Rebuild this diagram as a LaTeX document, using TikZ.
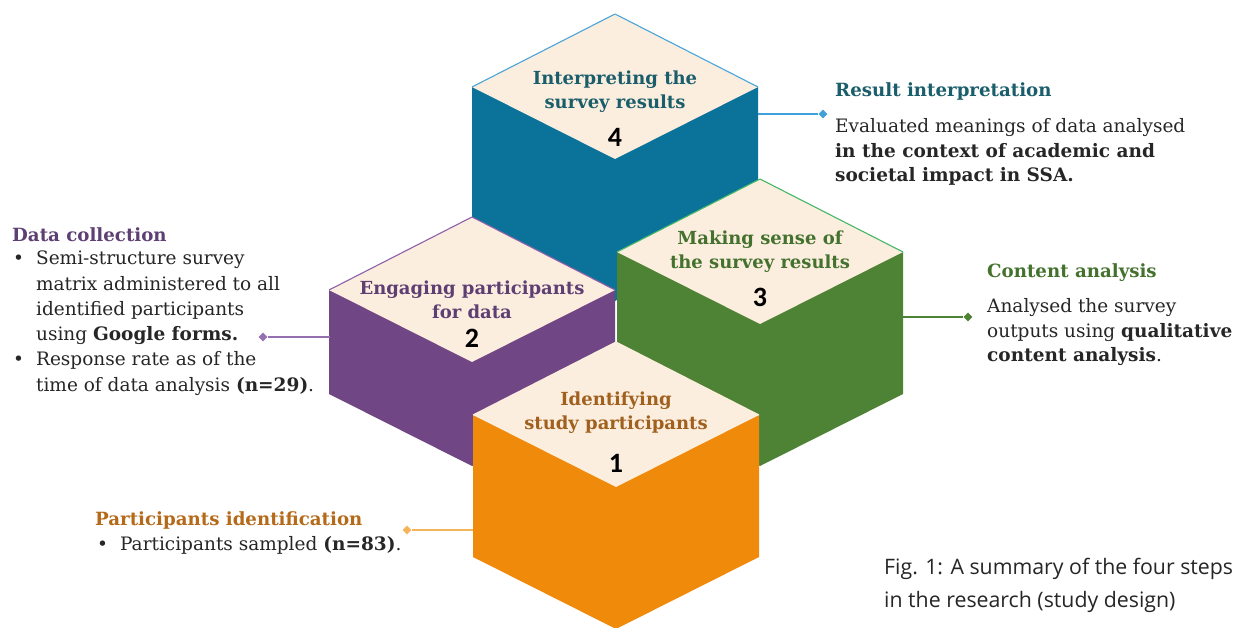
\documentclass[tikz,border=0pt]{standalone}
\usepackage{fontspec}
\setmainfont{DejaVu Serif}
\newfontfamily\capfont{Open Sans}
\newfontfamily\numfont{Carlito}
\usetikzlibrary{shapes.geometric}

\definecolor{cream}{HTML}{FCEEDF}
\definecolor{cubeblue}{HTML}{0B7299}
\definecolor{cubepurple}{HTML}{714685}
\definecolor{cubegreen}{HTML}{4E8235}
\definecolor{cubeorange}{HTML}{F08A0B}
\definecolor{edgeblue}{HTML}{4AA6DC}
\definecolor{edgepurple}{HTML}{8E62AA}
\definecolor{edgegreen}{HTML}{46B86A}
\definecolor{lineblue}{HTML}{3FA0DA}
\definecolor{linepurple}{HTML}{9470B0}
\definecolor{linegreen}{HTML}{4E8235}
\definecolor{lineorange}{HTML}{F5B35A}
\definecolor{headteal}{HTML}{1B5E6B}
\definecolor{headpurple}{HTML}{5E3F73}
\definecolor{headgreen}{HTML}{44722E}
\definecolor{headbrown}{HTML}{A0601E}
\definecolor{headorange}{HTML}{B56A1A}
\definecolor{bodytext}{HTML}{262626}
\definecolor{captext}{HTML}{262626}

% isometric block: centre of top face (#1,#2), wall height #3,
% wall colour #4, outline of the upper top edges #5
\newcommand\isoblock[5]{%
  \fill[#4] (#1-143,#2) -- (#1,#2-73) -- (#1+143,#2) -- (#1+143,#2+#3)
    -- (#1,#2+72+#3) -- (#1-143,#2+#3) -- cycle;
  \fill[cream] (#1-143,#2) -- (#1,#2-73) -- (#1+143,#2) -- (#1,#2+72) -- cycle;
  \draw[#5, line width=1.1bp, line join=round] (#1-143,#2) -- (#1,#2-73) -- (#1+143,#2);
}

\tikzset{
  cubehead/.style={inner sep=0pt, anchor=base,
    font=\fontsize{18bp}{24bp}\selectfont\bfseries},
  stepnum/.style={inner sep=0pt, anchor=base, text=black,
    font=\numfont\fontsize{28bp}{28bp}\selectfont\bfseries},
  sidehead/.style={inner sep=0pt, anchor=base west,
    font=\fontsize{18.2bp}{24bp}\selectfont\bfseries},
  sidebody/.style={inner sep=0pt, anchor=base west, text=bodytext,
    font=\fontsize{18.5bp}{24.5bp}\selectfont},
  tip/.style={diamond, fill=#1, inner sep=0pt, minimum size=9bp},
  link/.style={draw=#1, line width=1.4bp},
  captiontext/.style={inner sep=0pt, anchor=base west, text=captext,
    font=\capfont\fontsize{21.3bp}{33bp}\selectfont},
}

\begin{document}
\begin{tikzpicture}[x=1bp, y=-1bp]
\clip (0,0) rectangle (1236,628);
\fill[white] (0,0) rectangle (1236,628);

% the four blocks, back to front
\isoblock{615}{87}{142}{cubeblue}{edgeblue}
\isoblock{472}{290}{104}{cubepurple}{edgepurple}
\isoblock{760}{252}{142}{cubegreen}{edgegreen}
\isoblock{616}{415}{142}{cubeorange}{cream}

% block titles and step numbers
\node[cubehead, text=headteal] (t4) at (615,85)
  {\begin{tabular}[t]{@{}c@{}}Interpreting the\\survey results\end{tabular}};
\node[stepnum] (n4) at (615,147) {4};
\node[cubehead, text=headpurple] (t2) at (472,295)
  {\begin{tabular}[t]{@{}c@{}}Engaging participants\\for data\end{tabular}};
\node[stepnum] (n2) at (472,348) {2};
\node[cubehead, text=headgreen] (t3) at (760,245)
  {\begin{tabular}[t]{@{}c@{}}Making sense of\\the survey results\end{tabular}};
\node[stepnum] (n3) at (760,307) {3};
\node[cubehead, text=headbrown] (t1) at (616,405)
  {\begin{tabular}[t]{@{}c@{}}Identifying\\study participants\end{tabular}};
\node[stepnum] (n1) at (616,472) {1};

% connector anchors on the block walls
\coordinate (c4) at (758,114);
\coordinate (c3) at (903,317);
\coordinate (c2) at (330,337);
\coordinate (c1) at (473,530);

\node[tip=lineblue] (d4) at (823,114) {};
\node[tip=linegreen] (d3) at (968,317) {};
\node[tip=linepurple] (d2) at (263,337) {};
\node[tip=lineorange] (d1) at (407,530) {};

\draw[link=lineblue] (c4) -- (d4);
\draw[link=linegreen] (c3) -- (d3);
\draw[link=linepurple] (c2) -- (d2);
\draw[link=lineorange] (c1) -- (d1);

% step 4 description
\node[sidehead, text=headteal] (h4) at (835,97) {Result interpretation};
\node[sidebody] (b4) at (835,133)
  {\begin{tabular}[t]{@{}l@{}}Evaluated meanings of data analysed\\
   \textbf{in the context of academic and}\\
   \textbf{societal impact in SSA.}\end{tabular}};

% step 3 description
\node[sidehead, text=headgreen] (h3) at (987,278) {Content analysis};
\node[sidebody] (b3) at (987,313)
  {\begin{tabular}[t]{@{}l@{}}Analysed the survey\\
   outputs using \textbf{qualitative}\\
   \textbf{content analysis}.\end{tabular}};

% step 2 description
\node[sidehead, text=headpurple] (h2) at (12,242) {Data collection};
\node[sidebody, font=\fontsize{18.5bp}{25.2bp}\selectfont] (b2) at (13,265)
  {\begin{tabular}[t]{@{}l@{\hspace{12bp}}l@{}}
   \textbullet & Semi-structure survey\\
   & matrix administered to all\\
   & identified participants\\
   & using \textbf{Google forms.}\\
   \textbullet & Response rate as of the\\
   & time of data analysis \textbf{(n=29)}.\end{tabular}};

% step 1 description
\node[sidehead, text=headorange] (h1) at (95,525) {Participants identification};
\node[sidebody] (b1) at (97,550)
  {\begin{tabular}[t]{@{}l@{\hspace{12bp}}l@{}}
   \textbullet & Participants sampled \textbf{(n=83)}.\end{tabular}};

% caption
\node[captiontext] (cap) at (884,574)
  {\begin{tabular}[t]{@{}l@{}}Fig. 1: A summary of the four steps\\
   in the research (study design)\end{tabular}};
\end{tikzpicture}
\end{document}
